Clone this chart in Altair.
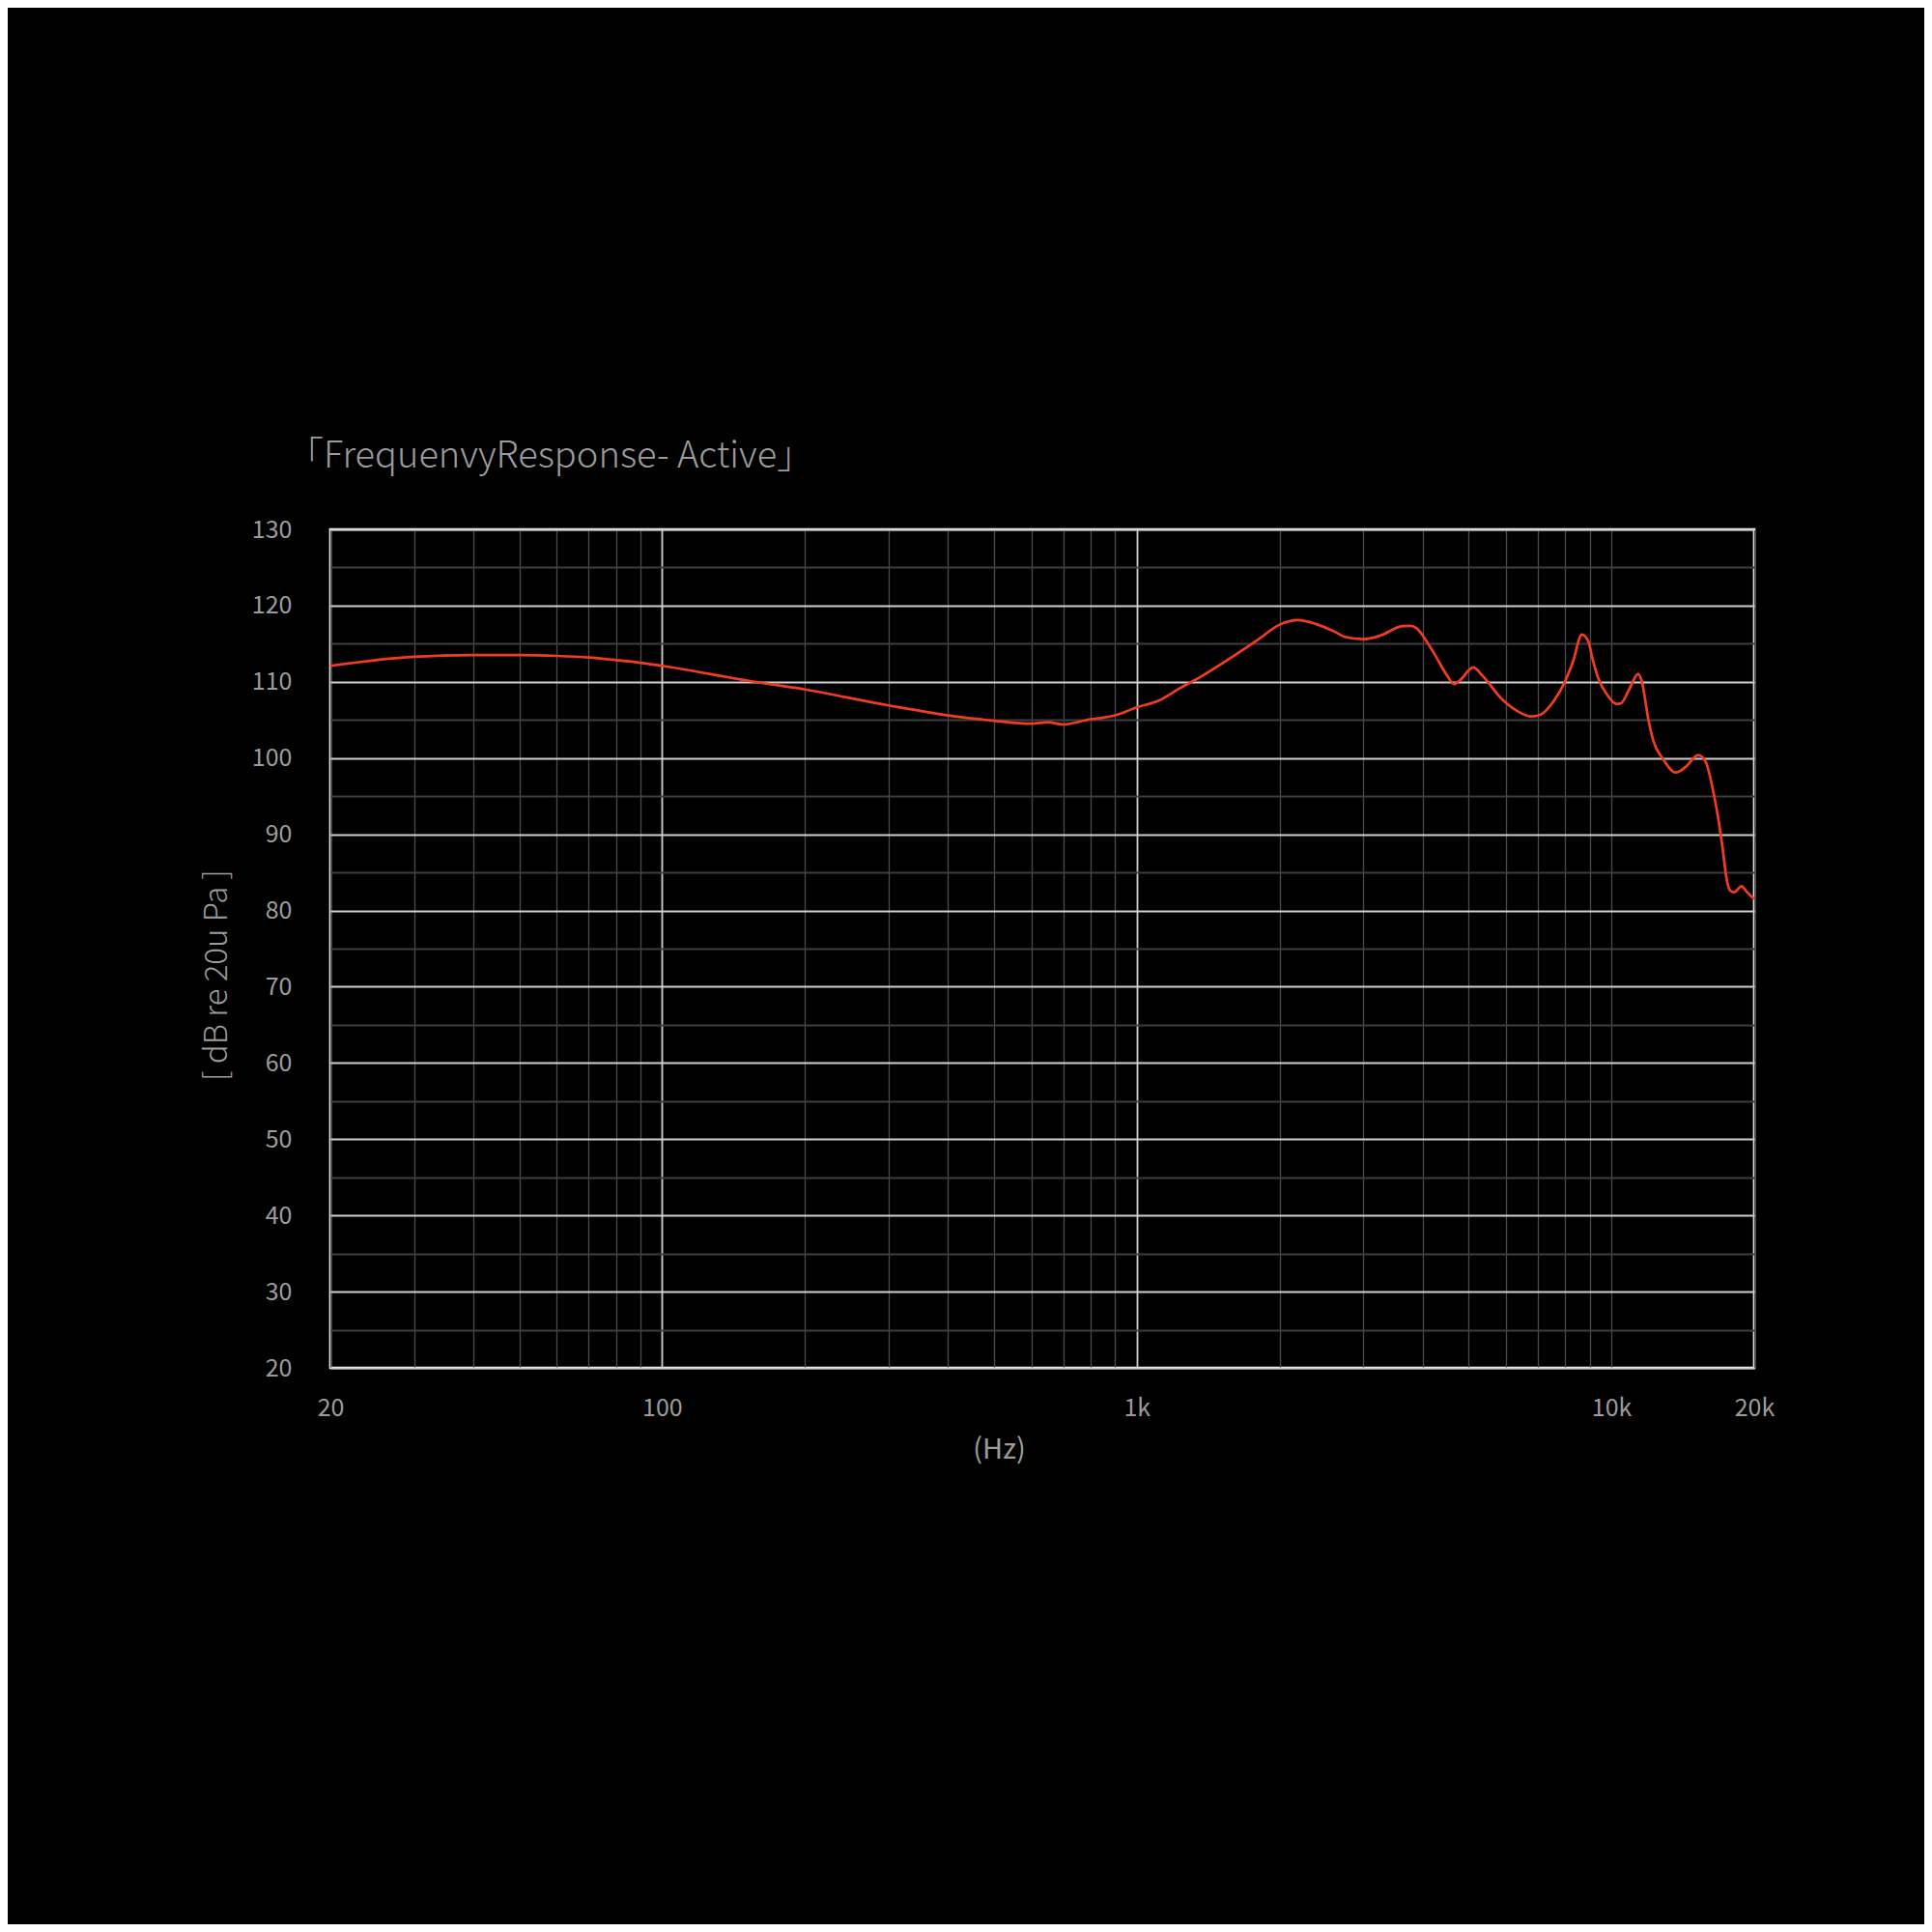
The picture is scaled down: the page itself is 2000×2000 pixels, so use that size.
import altair as alt
import pandas as pd

freq_hz = [20, 30, 40, 50, 60, 70, 80, 90, 100, 153, 200, 300, 400, 500, 600, 650, 700,
           800, 850, 900, 1000, 1109, 1236, 1358, 1588, 1798, 2000, 2185, 2382, 2616, 2741,
           3000, 3254, 3628, 3773, 3894, 4000, 4243, 4515, 4660, 4807, 5115, 5360, 5888,
           6363, 6773, 7098, 7553, 7981, 8296, 8666, 8943, 9112, 9400, 9849, 10240, 10483,
           10900, 11390, 11606, 11970, 12254, 12839, 13671, 14322, 15241, 15800, 16353,
           16740, 17136, 17480, 17810, 18150, 18813, 19258, 20000]
spl_db = [112.1, 113.3, 113.5, 113.5, 113.4, 113.2, 112.85, 112.5, 112.1, 110.1, 109.0,
          106.9, 105.6, 104.9, 104.5, 104.7, 104.4, 105.1, 105.3, 105.6, 106.65, 107.5,
          109.2, 110.6, 113.25, 115.5, 117.5, 118.1, 117.6, 116.55, 115.9, 115.6, 116.05,
          117.3, 117.35, 117.0, 116.1, 113.6, 110.75, 109.7, 110.25, 111.9, 110.75, 107.7,
          106.1, 105.45, 105.7, 107.45, 110.0, 112.6, 116.2, 115.3, 113.2, 110.35, 108.1,
          107.1, 107.2, 109.0, 111.05, 109.9, 105.0, 102.3, 99.9, 98.1, 98.8, 100.4, 99.5,
          95.95, 92.6, 88.4, 84.2, 82.6, 82.4, 83.2, 82.5, 81.5]

x_grid = [20, 30, 40, 50, 60, 70, 80, 90, 100, 200, 300, 400, 500, 600, 700, 800, 900,
          1000, 2000, 3000, 4000, 5000, 6000, 7000, 8000, 9000, 10000, 20000]
y_grid = list(range(20, 131, 5))

title_text = "「FrequenvyResponse- Active」"
x_title = "(Hz)"
y_title = "[ dB re 20u Pa ]"

df = pd.DataFrame({"f": freq_hz, "db": spl_db})

FONT = "Noto Sans CJK SC"
TXT = "#9c9c9c"

x_axis = alt.Axis(
    values=x_grid,
    labelExpr="datum.value == 20 ? '20' : datum.value == 100 ? '100' : datum.value == 1000 ? '1k' : datum.value == 10000 ? '10k' : datum.value == 20000 ? '20k' : ''",
    grid=True,
    gridColor={"condition": {"test": "datum.value == 100 || datum.value == 1000", "value": "#d0d0d0"}, "value": "#4a4a4a"},
    gridWidth={"condition": {"test": "datum.value == 100 || datum.value == 1000", "value": 1.8}, "value": 1.3},
    ticks=False, domain=False,
    labelFont=FONT, labelFontSize=25, labelColor=TXT, labelPadding=29,
    labelFlush=False, labelOverlap=False,
    title=x_title, titleFont=FONT, titleFontSize=29, titleColor=TXT, titleFontWeight="normal",
    titleX=692, titleY=84, titleAlign="center", titleBaseline="middle",
)

y_axis = alt.Axis(
    values=y_grid,
    labelExpr="datum.value % 10 == 0 ? datum.label : ''",
    grid=True,
    gridColor={"condition": {"test": "datum.value % 10 == 0", "value": "#cfcfcf"}, "value": "#3e3e3e"},
    gridWidth=2.2,
    ticks=False, domain=False,
    labelFont=FONT, labelFontSize=25, labelColor=TXT, labelPadding=40,
    labelOverlap=False, labelFlush=False,
    title=y_title, titleFont=FONT, titleFontSize=33, titleColor=TXT, titleFontWeight=300,
    titleAngle=270, titleX=-118, titleY=461, titleAlign="center", titleBaseline="middle",
)

chart = alt.Chart(df).mark_line(
    color="#f23c21", strokeWidth=2.7, interpolate="monotone"
).encode(
    x=alt.X("f:Q", scale=alt.Scale(type="log", domain=[20, 20000], nice=False), axis=x_axis),
    y=alt.Y("db:Q", scale=alt.Scale(domain=[20, 130], nice=False, zero=False), axis=y_axis),
).properties(
    width=1474, height=868,
    title=alt.TitleParams(title_text, anchor="start", frame="group", dx=-45, offset=14,
                          baseline="alphabetic", font=FONT, fontSize=38, color=TXT,
                          fontWeight=300),
    autosize=alt.AutoSizeParams(type="none"),
    padding={"left": 334, "top": 540, "right": 176, "bottom": 576},
).configure(
    background="#000000",
).configure_view(
    stroke="#ffffff", strokeWidth=2.6, fill="#000000",
)

chart.save("out.html", embed_options={"renderer": "svg", "actions": False})
